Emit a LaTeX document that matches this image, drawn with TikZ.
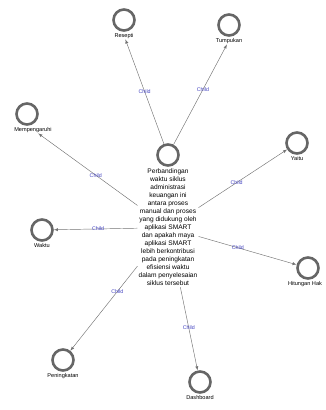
\documentclass[tikz,border=0pt]{standalone}
\usepackage{fontspec}
\setmainfont{Liberation Sans}
\usetikzlibrary{arrows,positioning,calc}
\tikzstyle{entitas} = [draw=black!60,line width=2.6pt,circle,minimum size=21pt,inner sep=0pt]
\tikzstyle{nama}    = [font=\fontsize{5.6}{6.5}\selectfont,inner sep=1pt]
\tikzstyle{child}   = [->,draw=black!55,line width=0.45pt,arrows={-latex}]
\tikzstyle{ket}     = [font=\fontsize{5.3}{6}\selectfont,text=blue!50!gray,inner sep=0.5pt]

\begin{document}
\begin{tikzpicture}[x=1pt,y=-1pt]
                  \useasboundingbox (0,0) rectangle (325,410);
                  \node (pusat)[entitas] at (168,155) {};
                  \node (pusatteks)[nama,align=center,font=\fontsize{6.6}{8}\selectfont,anchor=north] at (168,168)
                        {Perbandingan\\waktu siklus\\administrasi\\keuangan ini\\antara proses\\manual dan proses\\yang didukung oleh\\aplikasi SMART\\dan apakah maya\\aplikasi SMART\\lebih berkontribusi\\pada peningkatan\\efisiensi waktu\\dalam penyelesaian\\siklus tersebut};

                  \node (resepti)[entitas,label={[nama,name=resepti-t]below:Resepti}] at (124,20) {};
                  \node (tumpukan)[entitas,label={[nama,name=tumpukan-t]below:Tumpukan}] at (229,25) {};
                  \node (mempengaruhi)[entitas,label={[nama,name=mempengaruhi-t,xshift=6pt]below:Mempengaruhi}] at (27,114) {};
                  \node (yaitu)[entitas,label={[nama]below:Yaitu}] at (297,143) {};
                  \node (waktu)[entitas,label={[nama]below:Waktu}] at (42,230) {};
                  \node (hitungan)[entitas,label={[nama,xshift=-3pt]below:Hitungan Hak}] at (308,268) {};
                  \node (peningkatan)[entitas,label={[nama]below:Peningkatan}] at (63,360) {};
                  \node (dashboard)[entitas,label={[nama]below:Dashboard}] at (200,382) {};

                  \draw[child] (pusat) -- node[ket,pos=0.5]{Child} (resepti-t);
                  \draw[child] (pusat) -- node[ket,pos=0.55]{Child} (tumpukan-t);
                  \draw[child] (pusatteks) -- node[ket,pos=0.42]{Child} (mempengaruhi-t);
                  \draw[child] (pusatteks) -- node[ket,pos=0.43]{Child} (yaitu);
                  \draw[child] (pusatteks) -- node[ket,pos=0.47]{Child} (waktu);
                  \draw[child] (pusatteks) -- node[ket,pos=0.4]{Child} (hitungan);
                  \draw[child] (pusatteks) -- node[ket,pos=0.3]{Child} (peningkatan);
                  \draw[child] (pusatteks) -- node[ket,pos=0.49]{Child} (dashboard);
            \end{tikzpicture}
\end{document}
